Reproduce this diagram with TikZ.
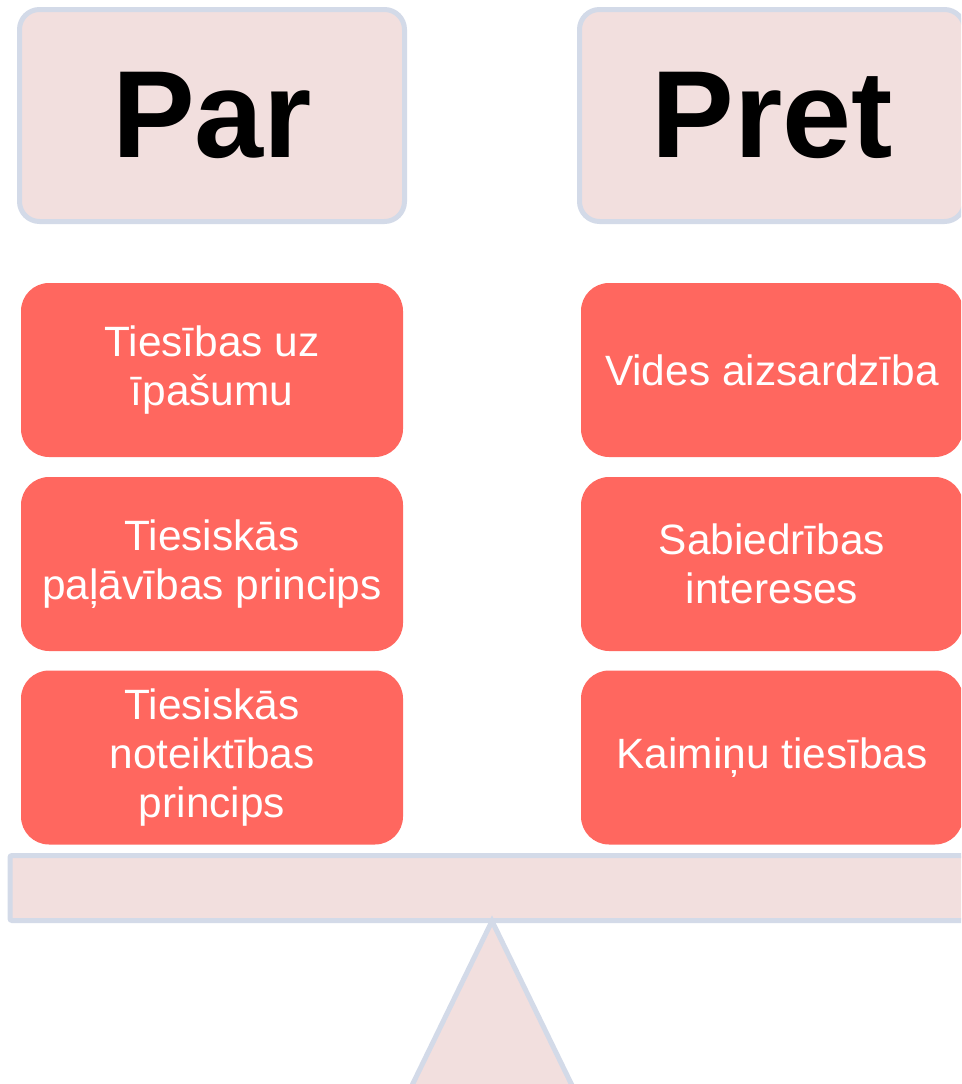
\documentclass[tikz,border=0pt]{standalone}
\usepackage{fontspec}
\setmainfont{Liberation Sans}
\definecolor{paleFill}{HTML}{F2DFDE}
\definecolor{paleLine}{HTML}{D3DAE8}
\definecolor{coral}{HTML}{FF675F}
\tikzset{
  headbox/.style={draw=paleLine, fill=paleFill, line width=5pt, rounded corners=20pt,
    minimum width=385pt, minimum height=212pt, inner sep=0pt, text=black,
    font=\bfseries\fontsize{124}{130}\selectfont},
  itembox/.style={draw=none, fill=coral, rounded corners=28pt,
    minimum width=382pt, minimum height=174pt, inner sep=0pt, text=white, align=center,
    font=\fontsize{42.4}{48.8}\selectfont},
  beambox/.style={draw=paleLine, fill=paleFill, line width=5pt, rounded corners=2pt,
    minimum width=1000pt, minimum height=65pt, inner sep=0pt},
  fulcrum/.style={draw=paleLine, fill=paleFill, line width=5pt, line join=miter}
}
\begin{document}
\begin{tikzpicture}[x=1pt,y=-1pt]
\useasboundingbox (0,0) rectangle (961,1084);
\clip (0,0) rectangle (961,1084);
% headers
\node[headbox] (par) at (212,115.5) {Par};
\node[headbox] (pret) at (772,115.5) {Pret};
% left items
\node[itembox] (l1) at (212,370) {Tiesības uz\\īpašumu};
\node[itembox] (l2) at (212,564) {Tiesiskās\\paļāvības princips};
\node[itembox] (l3) at (212,757.5) {Tiesiskās\\noteiktības\\princips};
% right items
\node[itembox] (r1) at (772,370) {Vides aizsardzība};
\node[itembox] (r2) at (772,564) {Sabiedrības\\intereses};
\node[itembox] (r3) at (772,757.5) {Kaimiņu tiesības};
% beam
\node[beambox, anchor=west] (beam) at (7.5,888) {};
% fulcrum
\coordinate (apex) at (492,921);
\coordinate (bl) at (400,1110);
\coordinate (br) at (584,1110);
\draw[fulcrum] (apex) -- (br) -- (bl) -- cycle;
\end{tikzpicture}
\end{document}
